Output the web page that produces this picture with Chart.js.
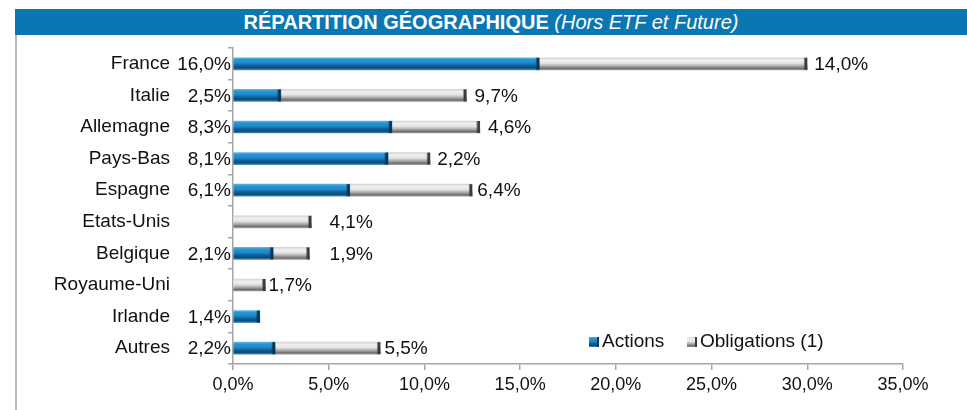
<!DOCTYPE html>
<html><head><meta charset="utf-8">
<script src="https://cdn.jsdelivr.net/npm/chart.js@4"></script>
<style>
html,body{margin:0;padding:0;background:#fff;}
#wrap{position:relative;width:967px;height:410px;overflow:hidden;}
#title{position:absolute;left:15px;top:9px;width:952px;height:26px;background:#0a77b2;color:#fff;text-align:center;font:bold 20px "Liberation Sans",Arial,sans-serif;line-height:27px;}
#title i{font-weight:normal;}
#border{position:absolute;left:15px;top:35px;width:2px;height:375px;background:#b8b8b8;}
#box{position:absolute;left:0;top:0;width:967px;height:410px;}
</style></head>
<body><div id="wrap"><div id="title">RÉPARTITION GÉOGRAPHIQUE <i>(Hors ETF et Future)</i></div><div id="border"></div><div id="box"><canvas id="c"></canvas></div></div>
<script>
const categories = ['France','Italie','Allemagne','Pays-Bas','Espagne','Etats-Unis','Belgique','Royaume-Uni','Irlande','Autres'];
const actions = [16.0, 2.5, 8.3, 8.1, 6.1, null, 2.1, null, 1.4, 2.2];
const obligations = [14.0, 9.7, 4.6, 2.2, 6.4, 4.1, 1.9, 1.7, null, 5.5];
const xTickValues = [0, 5, 10, 15, 20, 25, 30, 35];
const seriesNames = ['Actions', 'Obligations (1)'];

const BLUE = [[0,'#5fb3e3'],[0.15,'#2a95d4'],[0.45,'#1c86c8'],[0.65,'#0f5f96'],[0.85,'#0b4b78'],[1,'#3d8cc0']];
const GRAY = [[0,'#d4d4d4'],[0.2,'#f0f0f0'],[0.45,'#e4e4e4'],[0.7,'#a6a6a6'],[0.88,'#6e6e6e'],[1,'#9a9a9a']];
const BAR_H = 12;
const FONT = '"Liberation Sans", Arial, sans-serif';
const TEXT = '#111111';
const fmt = v => v.toFixed(1).replace('.', ',') + '%';

function bevel(stops){
  return function(ctx){
    const chart = ctx.chart;
    if (!chart.scales || !chart.scales.y || !chart.chartArea) return stops[2][1];
    const y = chart.scales.y.getPixelForValue(ctx.dataIndex);
    const g = chart.ctx.createLinearGradient(0, y - BAR_H/2, 0, y + BAR_H/2);
    stops.forEach(s => g.addColorStop(s[0], s[1]));
    return g;
  };
}

const labelShift = [7, 8, 8, 7, 5, 18, 20, 3, 0, 4];

const decor = {
  id: 'decor',
  afterDatasetsDraw(chart){
    const c = chart.ctx;
    const xs = chart.scales.x, ys = chart.scales.y;
    c.save();
    chart.data.datasets.forEach((ds, di) => {
      const meta = chart.getDatasetMeta(di);
      meta.data.forEach((el, j) => {
        if (ds.data[j] == null) return;
        const g = c.createLinearGradient(el.x - 4, 0, el.x, 0);
        g.addColorStop(0, di === 0 ? 'rgba(10,53,83,0)' : 'rgba(58,58,58,0)');
        g.addColorStop(0.5, di === 0 ? '#0a3553' : '#3a3a3a');
        g.addColorStop(1, di === 0 ? '#0a3553' : '#3a3a3a');
        c.fillStyle = g;
        c.fillRect(el.x - 4, el.y - BAR_H/2, 4, BAR_H);
      });
    });
    c.font = '19px ' + FONT;
    c.fillStyle = TEXT;
    c.textBaseline = 'middle';
    categories.forEach((cat, i) => {
      const y = ys.getPixelForValue(i) + 1;
      if (actions[i] != null) {
        c.textAlign = 'right';
        c.fillText(fmt(actions[i]), xs.getPixelForValue(0) - 2, y);
      }
      if (obligations[i] != null) {
        c.textAlign = 'left';
        const end = xs.getPixelForValue((actions[i] || 0) + obligations[i]);
        c.fillText(fmt(obligations[i]), end + labelShift[i], y);
      }
    });
    const legendY = 342;
    const items = [{x: 589, stops: BLUE, cap: '#0a3553'}, {x: 687, stops: GRAY, cap: '#3a3a3a'}];
    items.forEach((it, k) => {
      const g = c.createLinearGradient(0, legendY - 5, 0, legendY + 5);
      it.stops.forEach(s => g.addColorStop(s[0], s[1]));
      c.fillStyle = g;
      c.fillRect(it.x, legendY - 5, 10, 10);
      c.fillStyle = it.cap;
      c.fillRect(it.x + 8, legendY - 5, 2, 10);
      c.fillStyle = TEXT;
      c.textAlign = 'left';
      c.fillText(seriesNames[k], it.x + 13, legendY);
    });
    c.restore();
  }
};

new Chart(document.getElementById('c'), {
  type: 'bar',
  data: {
    labels: categories,
    datasets: [
      {label: seriesNames[0], data: actions, backgroundColor: bevel(BLUE), barThickness: BAR_H, borderWidth: 0},
      {label: seriesNames[1], data: obligations, backgroundColor: bevel(GRAY), barThickness: BAR_H, borderWidth: 0}
    ]
  },
  options: {
    indexAxis: 'y',
    responsive: true,
    maintainAspectRatio: false,
    animation: false,
    layout: {padding: {top: 48, right: 64, left: 0, bottom: 0}},
    plugins: {legend: {display: false}, tooltip: {enabled: false}},
    scales: {
      x: {
        stacked: true, min: 0, max: 35,
        afterBuildTicks: s => { s.ticks = xTickValues.map(v => ({value: v})); },
        afterFit: s => { s.height = 410 - 364; s.paddingLeft = 0; s.paddingRight = 0; },
        ticks: {callback: v => fmt(v), color: TEXT, font: {family: FONT, size: 18}, padding: 4, maxRotation: 0},
        grid: {drawOnChartArea: false, drawTicks: true, tickLength: 6, color: '#a6a6a6', lineWidth: 1.5},
        border: {color: '#a6a6a6', width: 1.5}
      },
      y: {
        stacked: true,
        afterFit: s => { s.width = 233; s.paddingTop = 0; s.paddingBottom = 0; },
        ticks: {color: TEXT, font: {family: FONT, size: 19}, padding: 58, autoSkip: false},
        grid: {drawOnChartArea: false, drawTicks: true, tickLength: 5, offset: true, color: '#a6a6a6', lineWidth: 1.5},
        border: {color: '#a6a6a6', width: 1.5}
      }
    }
  },
  plugins: [decor]
});
</script>
</body></html>
